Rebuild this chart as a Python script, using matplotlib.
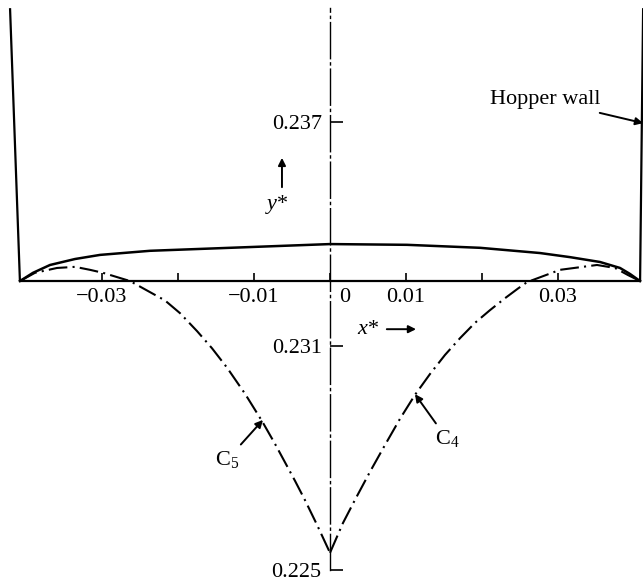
import numpy as np
import matplotlib.pyplot as plt
from matplotlib.transforms import ScaledTranslation

plt.rcParams['font.family'] = ['Liberation Serif', 'DejaVu Serif']
plt.rcParams['mathtext.fontset'] = 'custom'
plt.rcParams['mathtext.rm'] = 'Liberation Serif'
plt.rcParams['mathtext.it'] = 'Liberation Serif:italic'

# free surface (solid)
surf_x = [-0.04079, -0.03908, -0.03684, -0.03355, -0.03026, -0.02368, -0.01053,
          0.0, 0.01013, 0.01974, 0.02763, 0.03158, 0.03553, 0.03816, 0.03947,
          0.04079]
surf_y = [0.23274, 0.23296, 0.23317, 0.23333, 0.23344, 0.23355, 0.23365,
          0.23373, 0.23371, 0.23363, 0.23349, 0.23338, 0.23325, 0.23309,
          0.23293, 0.23274]

# C5 characteristic (left branch)
c5_x = [-0.04079, -0.03882, -0.03592, -0.03355, -0.03158, -0.02987, -0.02632,
        -0.02171, -0.01974, -0.01750, -0.01553, -0.01355, -0.01118, -0.00895,
        -0.00724, -0.00461, -0.00329, -0.00171, 0.0]
c5_y = [0.23274, 0.23296, 0.23309, 0.23312, 0.23304, 0.23296, 0.23274,
        0.23222, 0.23188, 0.23140, 0.23094, 0.23042, 0.22972, 0.22899,
        0.22838, 0.22739, 0.22687, 0.22621, 0.22546]

# C4 characteristic (right branch)
c4_x = [0.0, 0.00171, 0.00329, 0.00526, 0.00724, 0.00921, 0.01118, 0.01316,
        0.01513, 0.01711, 0.01908, 0.02105, 0.02303, 0.02474, 0.02592,
        0.03026, 0.03513, 0.03750, 0.03921, 0.04079]
c4_y = [0.22546, 0.22626, 0.22688, 0.22763, 0.22835, 0.22905, 0.22969,
        0.23025, 0.23076, 0.23121, 0.23162, 0.23196, 0.23228, 0.23254,
        0.23271, 0.23304, 0.23317, 0.23309, 0.23290, 0.23274]

# hopper walls
wall_left_x = [-0.0408, -0.0421]
wall_right_x = [0.0408, 0.0412]
wall_y = [0.23274, 0.24005]

x_ticks = [-0.03, -0.02, -0.01, 0.0, 0.01, 0.02, 0.03]
x_labels = ['\u22120.03', '', '\u22120.01', '0', '0.01', '', '0.03']
y_ticks = [0.225, 0.231, 0.237]
y_labels = ['0.225', '0.231', '0.237']
y_base = 0.23274
y_top = 0.24005

fig = plt.figure(figsize=(6.43, 5.82), dpi=100)
ax = fig.add_axes([0, 0, 1, 1])
ax.set_xlim(-0.043421, 0.041184)
ax.set_ylim(0.224678, 0.240268)
ax.patch.set_visible(False)

# axes through the origin: centre line and base line
ax.spines['top'].set_visible(False)
ax.spines['right'].set_visible(False)
ax.spines['left'].set_position(('data', 0.0))
ax.spines['left'].set_bounds(0.225, y_top)
ax.spines['left'].set_linewidth(1.0)
ax.spines['left'].set_linestyle((0, (26, 3, 1.5, 3)))
ax.spines['bottom'].set_position(('data', y_base))
ax.spines['bottom'].set_bounds(-0.0408, 0.0408)
ax.spines['bottom'].set_linewidth(1.6)

ax.set_xticks(x_ticks)
ax.set_xticklabels(x_labels)
ax.set_yticks(y_ticks)
ax.set_yticklabels(y_labels)
ax.tick_params(axis='x', direction='in', length=6, width=1.2, pad=5, labelsize=16)
ax.tick_params(axis='y', direction='in', length=9, width=1.2, pad=6, labelsize=16)

# nudge the "0" label off the centre line
zero_lab = ax.xaxis.get_major_ticks()[3].label1
zero_lab.set_transform(zero_lab.get_transform() +
                       ScaledTranslation(0.15, 0, fig.dpi_scale_trans))

ax.plot(wall_left_x, wall_y, color='black', lw=1.6, solid_capstyle='butt')
ax.plot(wall_right_x, wall_y, color='black', lw=1.6, solid_capstyle='butt')
ax.plot(surf_x, surf_y, color='black', lw=1.8)
dashdot = (0, (9, 2.5, 1, 2.5))
ax.plot(c5_x, c5_y, color='black', lw=1.5, linestyle=dashdot)
ax.plot(c4_x, c4_y, color='black', lw=1.5, linestyle=dashdot)

arrow = dict(arrowstyle='-|>', color='black', lw=1.4, mutation_scale=11,
             shrinkA=2, shrinkB=0)
ax.annotate('Hopper wall', xy=(0.0412, 0.23697), xytext=(0.02829, 0.23759),
            ha='center', va='center', fontsize=16, arrowprops=arrow)
ax.annotate('', xy=(-0.00632, 0.23604), xytext=(-0.00632, 0.23518),
            arrowprops=arrow)
ax.text(-0.00697, 0.23478, 'y*', fontsize=16, style='italic',
        ha='center', va='center')
ax.text(0.0050, 0.23143, 'x*', fontsize=16, style='italic',
        ha='center', va='center')
ax.annotate('', xy=(0.01132, 0.23145), xytext=(0.00711, 0.23145),
            arrowprops=arrow)
ax.annotate('C$_5$', xy=(-0.00882, 0.22902), xytext=(-0.01355, 0.22795),
            ha='center', va='center', fontsize=16, arrowprops=arrow)
ax.annotate('C$_4$', xy=(0.01118, 0.22971), xytext=(0.0154, 0.22851),
            ha='center', va='center', fontsize=16, arrowprops=arrow)

fig.savefig('out.png', dpi=100)
